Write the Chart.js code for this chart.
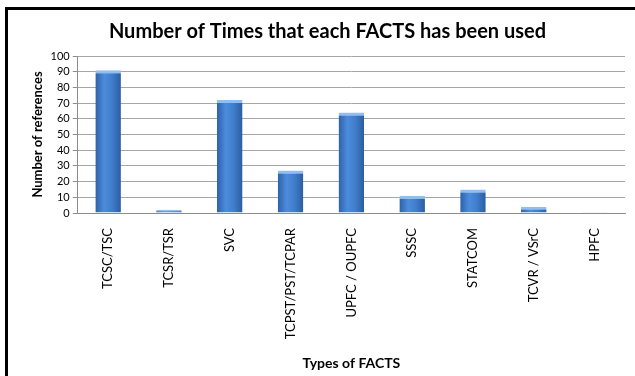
<!DOCTYPE html>
<html>
<head>
<meta charset="utf-8">
<script src="https://cdn.jsdelivr.net/npm/chart.js@4"></script>
<style>
  html, body { margin: 0; padding: 0; background: #fff; }
  body { width: 635px; height: 376px; position: relative; overflow: hidden; }
  .frame {
    position: absolute; left: 5px; top: 7px; right: 0; bottom: 0;
    border-left: 3px solid #000; border-top: 3px solid #000;
  }
  .wrap { position: absolute; left: 8px; top: 10px; width: 627px; height: 366px; }
</style>
</head>
<body>
<div class="frame"></div>
<div class="wrap"><canvas id="factsChart"></canvas></div>
<script>
// Tipos de FACTS y número de referencias
const facts = ["TCSC/TSC", "TCSR/TSR", "SVC", "TCPST/PST/TCPAR", "UPFC / OUPFC", "SSSC", "STATCOM", "TCVR / VSrC", "HPFC"];
const references = [91, 2, 72, 27, 64, 11, 15, 4, 0.5];
const yTicks = [0, 10, 20, 30, 40, 50, 60, 70, 80, 90, 100];

const fontFamily = "Lato, 'Open Sans', sans-serif";
const barRatio = 0.42;

// Degradado horizontal para cada barra (efecto cilindro)
function barGradient(context) {
  const chart = context.chart;
  const xScale = chart.scales.x;
  if (!chart.chartArea || !xScale) return "#3d78c6";
  const cx = xScale.getPixelForValue(context.dataIndex);
  const half = (xScale.width / facts.length) * barRatio / 2;
  const g = chart.ctx.createLinearGradient(cx - half, 0, cx + half, 0);
  g.addColorStop(0, "#2d62a8");
  g.addColorStop(0.35, "#4d8cdc");
  g.addColorStop(0.65, "#3f7ecd");
  g.addColorStop(1, "#2b5d9f");
  return g;
}

const ctx = document.getElementById("factsChart").getContext("2d");
new Chart(ctx, {
  type: "bar",
  data: {
    labels: facts,
    datasets: [{
      data: references,
      backgroundColor: barGradient,
      borderColor: "#8fbff2",
      borderWidth: { top: 3, left: 0, right: 0, bottom: 0 },
      borderSkipped: "bottom",
      categoryPercentage: 1,
      barPercentage: barRatio,
    }],
  },
  options: {
    responsive: true,
    maintainAspectRatio: false,
    animation: false,
    devicePixelRatio: 1,
    layout: { padding: { top: 4, right: 10, left: 22, bottom: 4 } },
    plugins: {
      legend: { display: false },
      tooltip: { enabled: false },
      title: {
        display: true,
        text: "Number of Times that each FACTS has been used",
        color: "#000",
        font: { family: fontFamily, size: 20, weight: "bold" },
        padding: { top: 6, bottom: 12 },
      },
    },
    scales: {
      x: {
        grid: { display: false },
        border: { color: "#8c8c8c", width: 1 },
        ticks: {
          color: "#000",
          autoSkip: false,
          minRotation: 90,
          maxRotation: 90,
          padding: 7,
          font: { family: fontFamily, size: 13 },
        },
        title: {
          display: true,
          text: "Types of FACTS",
          color: "#000",
          font: { family: fontFamily, size: 14, weight: "bold" },
          padding: { top: 9, bottom: 0 },
        },
      },
      y: {
        min: 0,
        max: 100,
        afterBuildTicks: (axis) => { axis.ticks = yTicks.map((v) => ({ value: v })); },
        grid: {
          color: "#a6a6a6",
          lineWidth: 1,
          drawTicks: true,
          tickLength: 5,
          tickColor: "#8c8c8c",
        },
        border: { color: "#8c8c8c", width: 1 },
        ticks: {
          color: "#000",
          autoSkip: false,
          padding: 3,
          font: { family: fontFamily, size: 11 },
        },
        title: {
          display: true,
          text: "Number of references",
          color: "#000",
          font: { family: fontFamily, size: 13, weight: "bold" },
          padding: { top: 0, bottom: 2 },
        },
      },
    },
  },
});
</script>
</body>
</html>
